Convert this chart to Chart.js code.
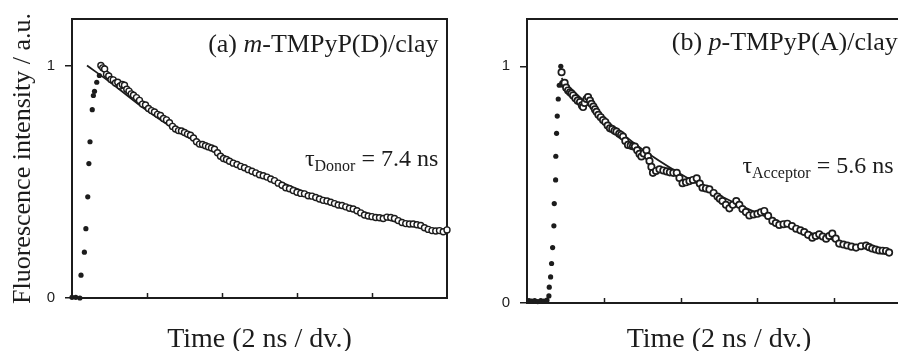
<!DOCTYPE html>
<html>
<head>
<meta charset="utf-8">
<script src="https://cdn.jsdelivr.net/npm/chart.js@4.4.1/dist/chart.umd.min.js"></script>
<style>
  html, body { margin: 0; padding: 0; background: #fff; width: 898px; height: 351px; overflow: hidden; }
  canvas { position: absolute; top: 0; }
</style>
</head>
<body>
<canvas id="chartA" width="460" height="351" style="left:0"></canvas>
<canvas id="chartB" width="464" height="351" style="left:460px"></canvas>
<script>
// (a) m-TMPyP(D)/clay : time in ns (2 ns per division), intensity normalised
const riseTimeA = [0.0, 0.1, 0.21, 0.24, 0.33, 0.37, 0.42, 0.45, 0.48, 0.54, 0.57, 0.6, 0.66, 0.73];
const riseA     = [0.003, 0.003, 0.0, 0.098, 0.197, 0.298, 0.435, 0.578, 0.672, 0.81, 0.871, 0.889, 0.928, 0.957];

const decayTimeA = [0.77, 0.82, 0.87, 0.92, 0.98, 1.04, 1.10, 1.16, 1.22, 1.28, 1.34, 1.40, 1.46, 1.52, 1.58, 1.64,
  1.72, 1.80, 1.88, 1.96, 2.04, 2.12, 2.20, 2.28, 2.36, 2.44, 2.52, 2.60, 2.68, 2.76, 2.84, 2.92, 3.00, 3.08, 3.16,
  3.24, 3.32, 3.40, 3.48, 3.56, 3.64, 3.72, 3.80, 3.88, 3.96, 4.04, 4.12, 4.20, 4.30, 4.40, 4.50, 4.60, 4.70, 4.80,
  4.90, 5.00, 5.10, 5.20, 5.30, 5.40, 5.50, 5.60, 5.70, 5.80, 5.90, 6.00, 6.10, 6.20, 6.30, 6.40, 6.50, 6.60, 6.70,
  6.80, 6.90, 7.00, 7.10, 7.20, 7.30, 7.40, 7.50, 7.60, 7.70, 7.80, 7.90, 8.00, 8.10, 8.20, 8.30, 8.40, 8.50, 8.60,
  8.70, 8.80, 8.90, 9.00, 9.10, 9.20, 9.30, 9.40, 9.50, 9.60, 9.70, 9.80, 9.90, 10.00];
const decayA = [1.00, 0.99, 0.985, 0.962, 0.955, 0.94, 0.938, 0.925, 0.928, 0.912, 0.918, 0.915, 0.898, 0.89, 0.878, 0.872,
  0.862, 0.85, 0.834, 0.83, 0.815, 0.806, 0.80, 0.79, 0.785, 0.772, 0.766, 0.754, 0.738, 0.727, 0.72, 0.718, 0.712, 0.705, 0.70,
  0.688, 0.672, 0.662, 0.66, 0.655, 0.65, 0.645, 0.64, 0.625, 0.61, 0.60, 0.596, 0.588, 0.58, 0.574, 0.566, 0.56, 0.552, 0.545,
  0.538, 0.53, 0.526, 0.52, 0.512, 0.505, 0.494, 0.485, 0.474, 0.47, 0.462, 0.455, 0.45, 0.448, 0.44, 0.438, 0.432, 0.426, 0.42,
  0.417, 0.412, 0.406, 0.40, 0.398, 0.392, 0.386, 0.383, 0.375, 0.366, 0.357, 0.353, 0.35, 0.346, 0.345, 0.342, 0.348, 0.346, 0.342,
  0.333, 0.325, 0.32, 0.318, 0.318, 0.315, 0.312, 0.302, 0.295, 0.29, 0.288, 0.29, 0.285, 0.293];

const fitTimeA = [0.4, 1, 2, 3, 4, 5, 6, 7, 8, 9, 10];
const fitA     = [1.0, 0.93, 0.806, 0.70, 0.615, 0.537, 0.47, 0.41, 0.358, 0.313, 0.278];

// (b) p-TMPyP(A)/clay
const riseTimeB = [0.05, 0.12, 0.2, 0.28, 0.36, 0.44, 0.52, 0.57, 0.58, 0.615, 0.64, 0.667, 0.70, 0.71, 0.745, 0.75,
  0.77, 0.788, 0.814, 0.84, 0.88];
const riseB     = [0.01, 0.008, 0.01, 0.006, 0.01, 0.008, 0.012, 0.03, 0.067, 0.11, 0.167, 0.234, 0.326, 0.42, 0.52, 0.62,
  0.717, 0.79, 0.862, 0.92, 1.0];

const decayTimeB = [0.90, 0.94, 0.98, 1.02, 1.07, 1.12, 1.16, 1.20, 1.26, 1.32, 1.38, 1.43, 1.46, 1.50, 1.55, 1.59, 1.64,
  1.68, 1.73, 1.77, 1.81, 1.86, 1.92, 1.98, 2.04, 2.10, 2.16, 2.22, 2.28, 2.33, 2.40, 2.45, 2.50, 2.56, 2.63, 2.70, 2.76,
  2.81, 2.87, 2.93, 2.98, 3.04, 3.11, 3.15, 3.19, 3.24, 3.28, 3.36, 3.45, 3.55, 3.64, 3.72, 3.81, 3.90, 3.97, 4.05, 4.14,
  4.23, 4.32, 4.42, 4.50, 4.57, 4.66, 4.75, 4.86, 4.96, 5.02, 5.09, 5.18, 5.27, 5.36, 5.45, 5.53, 5.61, 5.70, 5.79, 5.90,
  6.00, 6.09, 6.18, 6.28, 6.39, 6.48, 6.57, 6.68, 6.78, 6.90, 7.01, 7.12, 7.22, 7.32, 7.43, 7.52, 7.61, 7.70, 7.79, 7.87,
  7.95, 8.04, 8.13, 8.24, 8.34, 8.45, 8.57, 8.70, 8.83, 8.91, 8.99, 9.08, 9.17, 9.26, 9.35, 9.43];
const decayB = [0.975, 0.926, 0.93, 0.91, 0.898, 0.89, 0.885, 0.877, 0.865, 0.855, 0.849, 0.835, 0.828, 0.845, 0.862, 0.87, 0.855,
  0.842, 0.83, 0.818, 0.808, 0.795, 0.785, 0.773, 0.765, 0.75, 0.738, 0.735, 0.728, 0.724, 0.715, 0.71, 0.703, 0.685, 0.668, 0.665, 0.662,
  0.661, 0.645, 0.63, 0.619, 0.632, 0.645, 0.62, 0.60, 0.575, 0.55, 0.558, 0.565, 0.56, 0.556, 0.552, 0.55, 0.55, 0.528, 0.506, 0.51,
  0.515, 0.52, 0.527, 0.505, 0.487, 0.484, 0.48, 0.465, 0.45, 0.44, 0.431, 0.415, 0.40, 0.415, 0.431, 0.415, 0.397, 0.384, 0.37, 0.374,
  0.377, 0.383, 0.389, 0.368, 0.347, 0.338, 0.33, 0.333, 0.335, 0.325, 0.314, 0.307, 0.30, 0.288, 0.276, 0.283, 0.29, 0.281, 0.272, 0.283,
  0.293, 0.272, 0.251, 0.247, 0.243, 0.238, 0.234, 0.24, 0.243, 0.236, 0.23, 0.226, 0.222, 0.221, 0.22, 0.213];

const fitTimeB = [0.9, 1, 2, 3, 4, 5, 6, 7, 8, 9, 9.43];
const fitB     = [0.95, 0.93, 0.78, 0.65, 0.545, 0.455, 0.38, 0.318, 0.266, 0.222, 0.206];

const yTickValues = [0, 1];
const xTickValues = [2, 4, 6, 8];

const INK = '#1c1c1c';
const SERIF = '"Liberation Serif", "Times New Roman", serif';

function pts(xs, ys) {
  return xs.map((x, i) => ({ x: x, y: ys[i] }));
}

// draws pieces of text one after another (italic letters, subscripts)
function drawRich(ctx, x, y, parts) {
  parts.forEach(p => {
    ctx.font = p.font;
    ctx.fillText(p.text, x, y + (p.dy || 0));
    x += ctx.measureText(p.text).width;
  });
}

const framePlugin = {
  id: 'frame',
  beforeDatasetsDraw(chart) {
    const { ctx, chartArea: a, scales: { x } } = chart;
    ctx.save();
    ctx.strokeStyle = INK;
    ctx.lineWidth = 2;
    ctx.strokeRect(a.left, a.top, a.right - a.left, a.bottom - a.top);
    ctx.lineWidth = 1.5;
    xTickValues.forEach(v => {
      const px = Math.round(x.getPixelForValue(v)) + 0.5;
      ctx.beginPath();
      ctx.moveTo(px, a.bottom);
      ctx.lineTo(px, a.bottom - 5);
      ctx.stroke();
    });
    ctx.restore();
  },
  afterDraw(chart) {
    const o = chart.options.plugins.frame;
    const { ctx, scales: { x, y } } = chart;
    ctx.save();
    ctx.fillStyle = INK;
    ctx.textBaseline = 'alphabetic';
    drawRich(ctx, x.getPixelForValue(o.label.x), y.getPixelForValue(o.label.y), o.label.parts);
    drawRich(ctx, x.getPixelForValue(o.tau.x), y.getPixelForValue(o.tau.y), o.tau.parts);
    ctx.restore();
  }
};

function makeChart(id, c) {
  return new Chart(document.getElementById(id), {
    type: 'scatter',
    data: {
      datasets: [
        {
          label: 'rise',
          data: pts(c.riseT, c.rise),
          pointRadius: 2.6,
          pointBackgroundColor: INK,
          pointBorderWidth: 0,
          clip: false
        },
        {
          label: 'decay',
          data: pts(c.decayT, c.decay),
          pointRadius: c.bandR,
          pointBackgroundColor: '#ffffff',
          pointBorderColor: INK,
          pointBorderWidth: c.bandW,
          clip: false
        },
        {
          label: 'fit',
          data: pts(c.fitT, c.fit),
          showLine: true,
          borderColor: INK,
          borderWidth: 1.8,
          pointRadius: 0,
          cubicInterpolationMode: 'monotone',
          clip: false
        }
      ]
    },
    options: {
      responsive: false,
      animation: false,
      layout: { padding: { left: 0, top: 16, right: 13, bottom: 0 } },
      plugins: {
        legend: { display: false },
        tooltip: { enabled: false },
        frame: { label: c.label, tau: c.tau }
      },
      scales: {
        x: {
          type: 'linear',
          min: 0,
          max: 10,
          ticks: { display: false },
          grid: { display: false },
          border: { display: false },
          title: {
            display: true,
            text: 'Time (2 ns / dv.)',
            color: INK,
            font: { family: SERIF, size: 28, lineHeight: 0.78 },
            padding: { top: 0, bottom: 0 }
          },
          afterFit(s) { s.height = c.axisH; }
        },
        y: {
          min: 0,
          max: 1.2,
          afterBuildTicks(s) { s.ticks = yTickValues.map(v => ({ value: v })); },
          ticks: {
            color: INK,
            padding: 10,
            font: { family: '"Liberation Sans", Arial, sans-serif', size: 15 }
          },
          grid: { drawOnChartArea: false, drawTicks: true, tickLength: 7, color: INK, lineWidth: 1.5 },
          border: { display: false },
          title: {
            display: !!c.yTitle,
            text: c.yTitle || '',
            color: INK,
            font: { family: SERIF, size: 26, lineHeight: 1 },
            padding: { top: 10, bottom: 0 }
          },
          afterFit(s) { s.width = c.axisW; }
        }
      }
    },
    plugins: [framePlugin]
  });
}

makeChart('chartA', {
  riseT: riseTimeA, rise: riseA,
  decayT: decayTimeA, decay: decayA,
  fitT: fitTimeA, fit: fitA,
  bandR: 3, bandW: 1.4,
  axisW: 72, axisH: 53,
  yTitle: 'Fluorescence intensity / a.u.',
  label: { x: 3.63, y: 1.058, parts: [
    { text: '(a) ', font: '26px ' + SERIF },
    { text: 'm', font: 'italic 26px ' + SERIF },
    { text: '-TMPyP(D)/clay', font: '26px ' + SERIF }
  ] },
  tau: { x: 6.21, y: 0.566, parts: [
    { text: 'τ', font: '24px ' + SERIF },
    { text: 'Donor', font: '16px ' + SERIF, dy: 5 },
    { text: ' = 7.4 ns', font: '24px ' + SERIF }
  ] }
});

makeChart('chartB', {
  riseT: riseTimeB, rise: riseB,
  decayT: decayTimeB, decay: decayB,
  fitT: fitTimeB, fit: fitB,
  bandR: 3.2, bandW: 1.7,
  axisW: 67, axisH: 48,
  yTitle: '',
  label: { x: 3.77, y: 1.07, parts: [
    { text: '(b) ', font: '26px ' + SERIF },
    { text: 'p', font: 'italic 26px ' + SERIF },
    { text: '-TMPyP(A)/clay', font: '26px ' + SERIF }
  ] },
  tau: { x: 5.61, y: 0.548, parts: [
    { text: 'τ', font: '24px ' + SERIF },
    { text: 'Acceptor', font: '16px ' + SERIF, dy: 5 },
    { text: ' = 5.6 ns', font: '24px ' + SERIF }
  ] }
});
</script>
</body>
</html>
